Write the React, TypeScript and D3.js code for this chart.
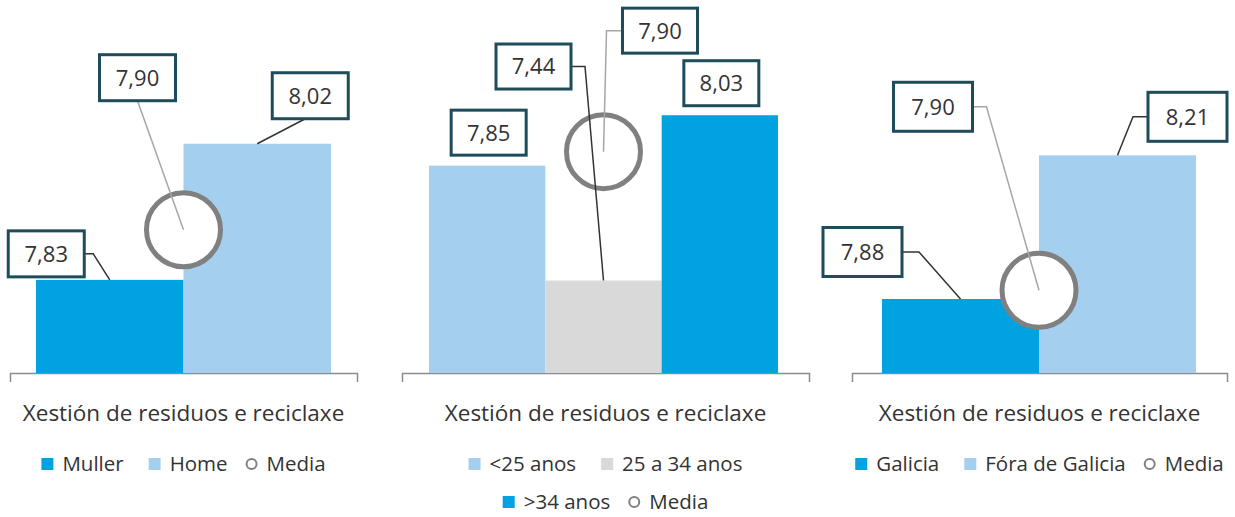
import React, { useRef, useEffect } from "react";
import * as d3 from "d3";

// data
const category = "Xestión de residuos e reciclaxe";
const mediaLabel = "Media";
const mediaValue = 7.9;

const sexGroups = ["Muller", "Home"];
const sexValues = [7.83, 8.02];

const ageGroups = ["<25 anos", "25 a 34 anos", ">34 anos"];
const ageValues = [7.85, 7.44, 8.03];

const originGroups = ["Galicia", "Fóra de Galicia"];
const originValues = [7.88, 8.21];

const FONT = "'Open Sans', 'Noto Sans', sans-serif";
const darkBlue = "#00a3e0";
const lightBlue = "#a5cfee";
const lightGrey = "#d9d9d9";

const W = 1235;
const H = 517;
const baseY = 373;
const topY = 90;

// layout of each panel (label offsets are relative to the point they describe)
const panels = [
   {
      groups: sexGroups,
      values: sexValues,
      colors: [darkBlue, lightBlue],
      axis: [10, 357],
      bars: [36, 331],
      domain: [7.7, 8.095],
      box: [76, 46],
      labels: [
         { dx: -63.5, dy: -26, leader: "right", elbow: 9 },
         { dx: 53, dy: -48, leader: "bottom", sx: -5 },
      ],
      media: { dx: -46, dy: -152, leader: "bottom", sx: 0 },
      legend: [[0, 1, -1]],
   },
   {
      groups: ageGroups,
      values: ageValues,
      colors: [lightBlue, lightGrey, darkBlue],
      axis: [402, 809],
      bars: [429, 778],
      domain: [7.11, 8.12],
      box: [75, 45],
      labels: [
         { dx: 1.5, dy: -33, leader: "none" },
         { dx: -70, dy: -214, leader: "right", elbow: 14 },
         { dx: 1.5, dy: -32, leader: "none" },
      ],
      media: { dx: 56.5, dy: -121, leader: "left", elbow: 16 },
      legend: [
         [0, 1],
         [2, -1],
      ],
   },
   {
      groups: originGroups,
      values: originValues,
      colors: [darkBlue, lightBlue],
      axis: [852, 1227],
      bars: [882, 1196],
      domain: [7.71, 8.36],
      box: [79, 49],
      labels: [
         { dx: -98, dy: -47, leader: "right", elbow: 17 },
         { dx: 70, dy: -38.5, leader: "left", elbow: 15 },
      ],
      media: { dx: -106, dy: -183.5, leader: "right", elbow: 14 },
      legend: [[0, 1, -1]],
   },
];

const fmt = (v: number) => d3.format(".2f")(v).replace(".", ",");

export default function App() {
   const svgRef = useRef<SVGSVGElement>(null);

   useEffect(() => {
      const svg = d3.select(svgRef.current);
      svg.selectAll("*").remove();

      panels.forEach((p) => {
         const g = svg.append("g");
         const x = d3.scaleBand<string>().domain(p.groups).range(p.bars as [number, number]).padding(0);
         const y = d3.scaleLinear().domain(p.domain).range([baseY, topY]);
         const catScale = d3.scaleBand<string>().domain([category]).range(p.axis as [number, number]);

         // category axis
         g.append("g")
            .attr("transform", `translate(0,${baseY})`)
            .call(d3.axisBottom(catScale).tickSizeInner(0).tickSizeOuter(9).tickPadding(32))
            .call((a) => {
               a.select(".domain").attr("stroke", "#8c8c8c").attr("stroke-width", 1.5);
               a.selectAll("line").remove();
               a.selectAll("text")
                  .attr("font-size", 22.5)
                  .attr("font-family", FONT)
                  .attr("fill", "#333");
            });

         // bars
         g.selectAll(".bar")
            .data(p.values)
            .join("rect")
            .attr("x", (d, i) => x(p.groups[i])!)
            .attr("width", x.bandwidth())
            .attr("y", (d) => y(d))
            .attr("height", (d) => baseY - y(d))
            .attr("fill", (d, i) => p.colors[i]);

         // media marker
         const mx = (x.range()[0] + x.range()[1]) / 2;
         const my = y(mediaValue);
         g.append("circle")
            .attr("cx", mx)
            .attr("cy", my)
            .attr("r", 37)
            .attr("fill", "#fff")
            .attr("stroke", "#808080")
            .attr("stroke-width", 5);

         const leaders = g.append("g").attr("fill", "none");
         const boxes = g.append("g");
         const [bw, bh] = p.box;

         const callout = (ax: number, ay: number, c: any, text: string, color: string, sw: number) => {
            const cx = ax + c.dx;
            const cy = ay + c.dy;
            let pts: [number, number][] | null = null;
            if (c.leader === "bottom") pts = [[cx + c.sx, cy + bh / 2], [ax, ay]];
            if (c.leader === "right") pts = [[cx + bw / 2, cy], [cx + bw / 2 + c.elbow, cy], [ax, ay]];
            if (c.leader === "left") pts = [[cx - bw / 2, cy], [cx - bw / 2 - c.elbow, cy], [ax, ay]];
            if (pts) {
               leaders.append("path").attr("d", d3.line()(pts)).attr("stroke", color).attr("stroke-width", sw);
            }
            boxes.append("rect")
               .attr("x", cx - bw / 2)
               .attr("y", cy - bh / 2)
               .attr("width", bw)
               .attr("height", bh)
               .attr("fill", "#fff")
               .attr("stroke", "#1f4c5a")
               .attr("stroke-width", 3);
            boxes.append("text")
               .attr("x", cx)
               .attr("y", cy)
               .attr("dy", "0.36em")
               .attr("text-anchor", "middle")
               .attr("font-family", FONT)
               .attr("font-size", 22)
               .attr("fill", "#333")
               .text(text);
         };

         p.values.forEach((v, i) => {
            callout(x(p.groups[i])! + x.bandwidth() / 2, y(v), p.labels[i], fmt(v), "#333", 1.5);
         });
         callout(mx, my, p.media, fmt(mediaValue), "#a6a6a6", 1.5);

         // legend
         const center = (p.axis[0] + p.axis[1]) / 2;
         p.legend.forEach((row, r) => {
            const rowY = 464 + r * 38;
            const lg = g.append("g");
            let cursor = 0;
            row.forEach((idx, k) => {
               if (k > 0) cursor += idx >= 0 ? 25 : 18;
               const item = lg.append("g").attr("transform", `translate(${cursor},0)`);
               if (idx >= 0) {
                  item.append("rect").attr("x", 0).attr("y", -6).attr("width", 12).attr("height", 12).attr("fill", p.colors[idx]);
               } else {
                  item.append("circle").attr("cx", 6).attr("cy", 0).attr("r", 5).attr("fill", "none").attr("stroke", "#808080").attr("stroke-width", 2);
               }
               const t = item.append("text")
                  .attr("x", 21)
                  .attr("dy", "0.36em")
                  .attr("font-family", FONT)
                  .attr("font-size", 20.5)
                  .attr("fill", "#333")
                  .text(idx >= 0 ? p.groups[idx] : mediaLabel);
               const tw = (t.node() as SVGTextElement).getComputedTextLength();
               cursor += 21 + tw;
            });
            lg.attr("transform", `translate(${center - cursor / 2},${rowY})`);
         });
      });
   }, []);

   return (
      <div>
         <svg
            ref={svgRef}
            width={W}
            height={H}
            style={{ position: "absolute", left: 0, top: 0, background: "#fff" }}
         ></svg>
      </div>
   );
}
